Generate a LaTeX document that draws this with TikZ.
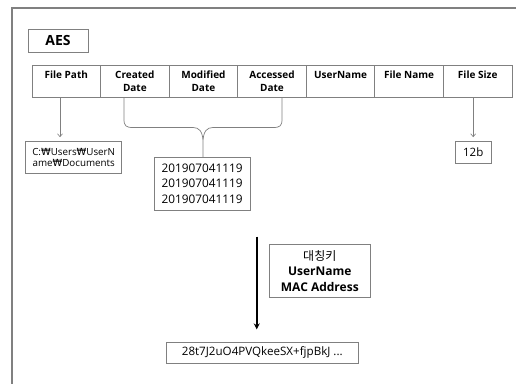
\documentclass[tikz,border=0pt]{standalone}
\usepackage{fontspec}
\setmainfont{Open Sans}
\newfontfamily\krfont{Noto Sans CJK KR}
\newfontfamily\symfont{DejaVu Sans}
\newcommand{\wonsign}{{\symfont ₩}}
\usetikzlibrary{arrows.meta}
\definecolor{linegray}{RGB}{128,128,128}

\tikzset{
  box/.style={draw=linegray, line width=0.8pt, inner sep=0pt, outer sep=0pt, align=center},
  cell/.style={box, minimum width=68.571pt, minimum height=31.6pt,
               font=\fontsize{10pt}{13.3pt}\selectfont\bfseries},
  thinarrow/.style={draw=linegray, line width=0.6pt, -{Straight Barb[length=3pt,width=5pt]}},
  bigarrow/.style={draw=black, line width=1.6pt, -{Stealth[length=6pt,width=6pt]}},
}

\begin{document}
\begin{tikzpicture}[x=1pt,y=-1pt]
\useasboundingbox (0,0) rectangle (516,383);
\fill[white] (0,0) rectangle (516,383);

% outer frame, running off the page on the right and bottom
\begin{scope}
\clip (0,0) rectangle (516,383);
\draw[linegray, line width=1.4pt] (12,390) -- (12,8) -- (525,8);
\end{scope}

% title
\node[box, minimum width=60pt, minimum height=23pt, font=\fontsize{14pt}{16pt}\selectfont\bfseries]
  (aes) at (58,40.5) {AES};

% header row
\foreach \i/\t [count=\k] in {0/{File Path\\\phantom{Date}},1/{Created\\Date},2/{Modified\\Date},
    3/{Accessed\\Date},4/{UserName\\\phantom{Date}},5/{File Name\\\phantom{Date}},6/{File Size\\\phantom{Date}}}
  \node[cell] (c\k) at ({32+68.571*(\i+0.5)},81.5) {\t};

% value boxes
\node[box, minimum width=96pt, minimum height=31.6pt, font=\fontsize{9.8pt}{11.5pt}\selectfont]
  (path) at (73.7,157.5) {C:\wonsign Users\wonsign UserN\\ame\wonsign Documents};
\node[box, minimum width=36.3pt, minimum height=21.6pt, font=\fontsize{11.5pt}{14pt}\selectfont]
  (size) at (473.2,152.5) {12b};
\node[box, minimum width=96pt, minimum height=52.7pt, font=\fontsize{11.8pt}{15.5pt}\selectfont]
  (dates) at (202,183.7) {201907041119\\201907041119\\201907041119};

% key box and encrypted output
\node[box, minimum width=101pt, minimum height=53pt, font=\fontsize{12pt}{15.5pt}\selectfont]
  (key) at (319.8,270.8) {{\krfont 대칭키}\\\textbf{UserName}\\\textbf{MAC Address}};
\node[box, minimum width=192pt, minimum height=20.7pt, font=\fontsize{11.6pt}{13pt}\selectfont]
  (out) at (262.3,352.7) {28t7J2uO4PVQkeeSX+fjpBkJ ...};

% arrows from the header to the values
\coordinate (pa) at (60,97.3);
\draw[thinarrow, shorten >=4.5pt] (pa) -- (pa |- path.north);
\draw[thinarrow, shorten >=4.5pt] (size.north |- c7.south) -- (size.north);

% brace joining the three date columns
\coordinate (bl) at (124,97.3);
\coordinate (br) at (282,97.3);
\coordinate (tip) at (203,141);
\draw[linegray, line width=0.7pt]
  (bl) -- (124,119) .. controls (124,126) and (126,127.5) .. (133,127.5)
  -- (193,127.5) .. controls (199,127.5) and (202.5,131) .. (tip)
  (br) -- (282,119) .. controls (282,126) and (280,127.5) .. (273,127.5)
  -- (213,127.5) .. controls (207,127.5) and (203.5,131) .. (tip)
  (tip) -- (tip |- dates.north);

% encryption step
\coordinate (ea) at (256.7,236.7);
\draw[bigarrow, shorten >=13pt] (ea) -- (ea |- out.north);
\end{tikzpicture}
\end{document}
